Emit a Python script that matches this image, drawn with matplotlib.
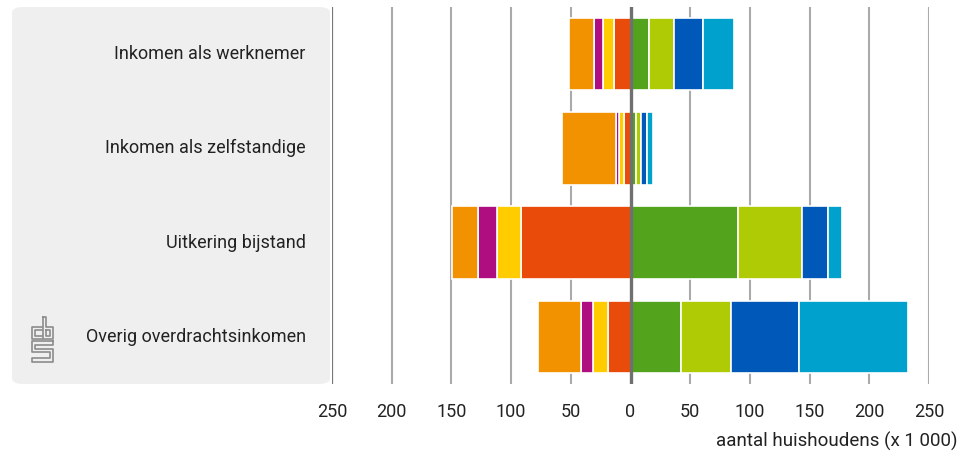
#!/usr/bin/env python3
"""Diverging stacked bars: huishoudens per inkomensbron."""

import matplotlib
matplotlib.use("Agg")
import matplotlib.pyplot as plt
from matplotlib.patches import FancyBboxPatch
import numpy as np

plt.rcParams["font.family"] = ["Roboto", "DejaVu Sans"]

categories = ["Inkomen als werknemer", "Inkomen als zelfstandige",
              "Uitkering bijstand", "Overig overdrachtsinkomen"]

# left side, stacked from 0 outwards (x 1 000 households)
links_rood = [14.2, 5.3, 91.6, 18.6]
links_geel = [9.2, 4.3, 20.0, 12.8]
links_paars = [7.5, 2.9, 16.0, 10.0]
links_oranje = [20.9, 44.6, 22.0, 35.7]

# right side, stacked from 0 outwards
rechts_groen = [15.9, 4.2, 89.9, 42.2]
rechts_geelgroen = [20.9, 4.2, 53.5, 42.2]
rechts_donkerblauw = [24.2, 5.8, 21.7, 56.5]
rechts_lichtblauw = [26.0, 5.0, 12.0, 91.1]

ticks = [-250, -200, -150, -100, -50, 0, 50, 100, 150, 200, 250]

W, H = 968, 459
fig = plt.figure(figsize=(W / 100, H / 100), dpi=100)

# grey label panel
panel = FancyBboxPatch((12 / W, 1 - 384 / H), (330 - 12) / W, (384 - 7) / H,
                       boxstyle="round,pad=0,rounding_size=0.012",
                       transform=fig.transFigure, facecolor="#EFEFEF",
                       edgecolor="none", zorder=0)
fig.add_artist(panel)

ax = fig.add_axes([332 / W, 1 - 384 / H, (929 - 332) / W, (384 - 7) / H])
ax.set_facecolor("none")

y = np.arange(len(categories))
h = 0.77

left = [("#E94C0A", links_rood), ("#FFCC00", links_geel),
        ("#AF0E80", links_paars), ("#F39200", links_oranje)]
right = [("#53A31D", rechts_groen), ("#AFCB05", rechts_geelgroen),
         ("#0058B8", rechts_donkerblauw), ("#00A1CD", rechts_lichtblauw)]

base = np.zeros(len(categories))
for col, vals in left:
    vals = np.array(vals)
    ax.barh(y, -vals, left=-base, height=h, color=col,
            edgecolor="white", linewidth=1.2, zorder=3)
    base += vals

base = np.zeros(len(categories))
for col, vals in right:
    vals = np.array(vals)
    ax.barh(y, vals, left=base, height=h, color=col,
            edgecolor="white", linewidth=1.2, zorder=3)
    base += vals

for t in ticks:
    if t == 0:
        ax.axvline(0, color="#707070", linewidth=2.4, zorder=5)
    elif t == -250:
        ax.axvline(t, color="#777777", linewidth=1.6, zorder=2)
    else:
        ax.axvline(t, color="#AAAAAA", linewidth=1.5, zorder=1)

ax.set_xlim(-250, 250)
ax.set_ylim(3.5, -0.5)
ax.set_xticks(ticks)
ax.set_xticklabels([str(abs(t)) for t in ticks], fontsize=13, color="#222222")
ax.tick_params(axis="x", length=0, pad=14)
ax.set_yticks([])
for s in ax.spines.values():
    s.set_visible(False)

for i, cat in enumerate(categories):
    ax.text(-272, i, cat, ha="right", va="center", fontsize=13,
            color="#222222")

fig.text(957 / W, 1 - 441 / H, "aantal huishoudens (x 1 000)",
         ha="right", va="center", fontsize=13.5, color="#222222")

# cbs logo (simplified outline)
lg = fig.add_axes([30 / W, 1 - 364 / H, 24 / W, 49 / H])
lg.set_xlim(0, 24)
lg.set_ylim(49, 0)
lg.axis("off")
lc = "#8C8C8C"
lw = 1.2
# c
lg.plot([12, 2, 2, 12], [12, 12, 24, 24], color=lc, lw=lw)
lg.plot([12, 5, 5, 12], [15, 15, 21, 21], color=lc, lw=lw)
# b
lg.plot([13, 13, 23, 23, 16, 16, 13], [2, 24, 24, 12, 12, 2, 2], color=lc, lw=lw)
lg.plot([16, 20, 20, 16, 16], [15, 15, 21, 21, 15], color=lc, lw=lw)
# s
lg.plot([23, 2, 2, 20, 20, 2, 2, 23, 23, 5, 5, 23, 23],
        [26, 26, 37, 37, 43, 43, 47, 47, 34, 34, 30, 30, 26],
        color=lc, lw=lw)

plt.savefig("out.png", dpi=100)
plt.close()
